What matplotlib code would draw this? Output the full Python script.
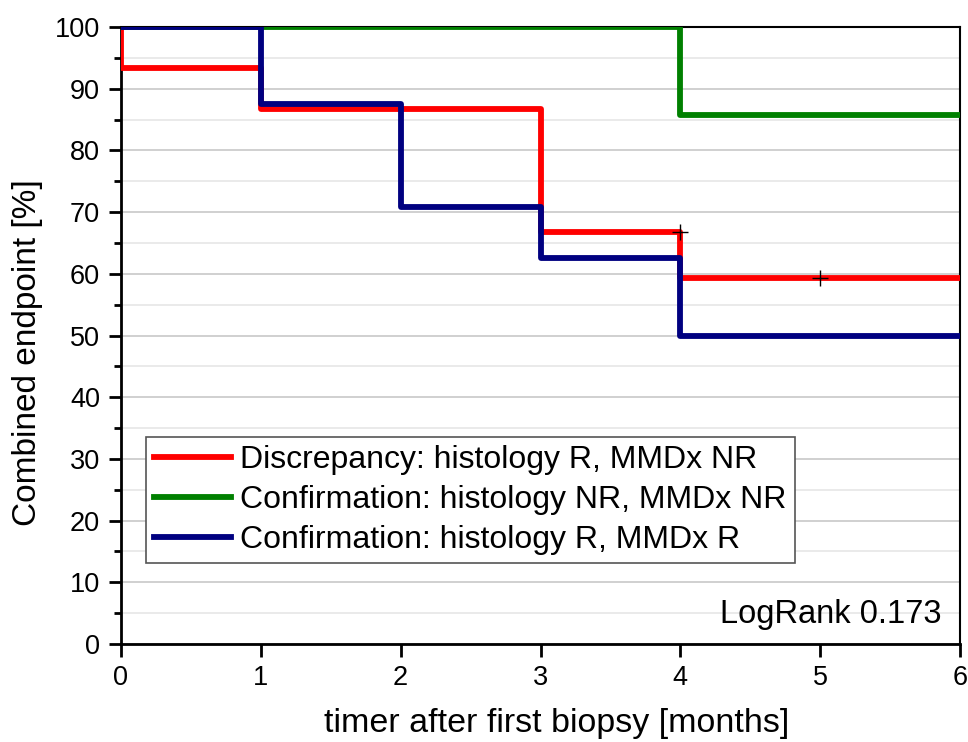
import matplotlib
matplotlib.use("Agg")
import matplotlib.pyplot as plt
from matplotlib.ticker import MultipleLocator

plt.rcParams['font.family'] = ['Liberation Sans', 'DejaVu Sans']

# Kaplan-Meier style step curves (months, %)
red_t = [0, 0, 1, 3, 4, 6]
red_y = [100, 93.3, 86.7, 66.7, 59.3, 59.3]
green_t = [0, 4, 6]
green_y = [100, 85.7, 85.7]
blue_t = [0, 1, 2, 3, 4, 6]
blue_y = [100, 87.5, 70.8, 62.5, 50, 50]
censor_t = [4, 5]
censor_y = [66.7, 59.3]

labels = ["Discrepancy: histology R, MMDx NR",
          "Confirmation: histology NR, MMDx NR",
          "Confirmation: histology R, MMDx R"]

fig = plt.figure(figsize=(9.68, 7.42), dpi=100)
ax = fig.add_axes([121 / 968, 1 - 644 / 742, 839 / 968, 617 / 742])

lw = 4.2
ax.plot(red_t, red_y, drawstyle="steps-post", color="#ff0000", lw=lw,
        label=labels[0], zorder=3)
ax.plot(green_t, green_y, drawstyle="steps-post", color="#008000", lw=lw,
        label=labels[1], zorder=4)
ax.plot(blue_t, blue_y, drawstyle="steps-post", color="#000080", lw=lw,
        label=labels[2], zorder=5)
ax.plot(censor_t, censor_y, linestyle="none", marker="+", color="black",
        markersize=11, markeredgewidth=1.0, zorder=6)

ax.set_xlim(0, 6)
ax.set_ylim(0, 100)
ax.xaxis.set_major_locator(MultipleLocator(1))
ax.yaxis.set_major_locator(MultipleLocator(10))
ax.yaxis.set_minor_locator(MultipleLocator(5))

ax.grid(True, which="major", axis="y", color="#c8c8c8", lw=1.2, zorder=0)
ax.grid(True, which="minor", axis="y", color="#e6e6e6", lw=1.2, zorder=0)
ax.set_axisbelow(True)

ax.tick_params(which="major", direction="out", length=9, width=2,
               labelsize=19.5, pad=6)
ax.tick_params(which="minor", direction="out", length=5, width=2)
for s in ax.spines.values():
    s.set_linewidth(2)
ax.spines["top"].set_linewidth(1.5)
ax.spines["right"].set_linewidth(1.5)

ax.set_xlabel("timer after first biopsy [months]", fontsize=24.5)
ax.xaxis.set_label_coords(0.519, -0.104)
ax.set_ylabel("Combined endpoint [%]", fontsize=24)
ax.yaxis.set_label_coords(-0.093, 0.473)

leg = ax.legend(loc="lower left", bbox_to_anchor=(0.03, 0.131), fontsize=23,
                frameon=True, fancybox=False, edgecolor="#555555",
                handlelength=2.4, handletextpad=0.3, borderpad=0.25,
                labelspacing=0.32, borderaxespad=0, framealpha=1)
leg.get_frame().set_linewidth(1.2)

ax.text(0.978, 0.022, "LogRank 0.173", transform=ax.transAxes, fontsize=23.5,
        ha="right", va="bottom")

fig.savefig("out.png", dpi=100)
